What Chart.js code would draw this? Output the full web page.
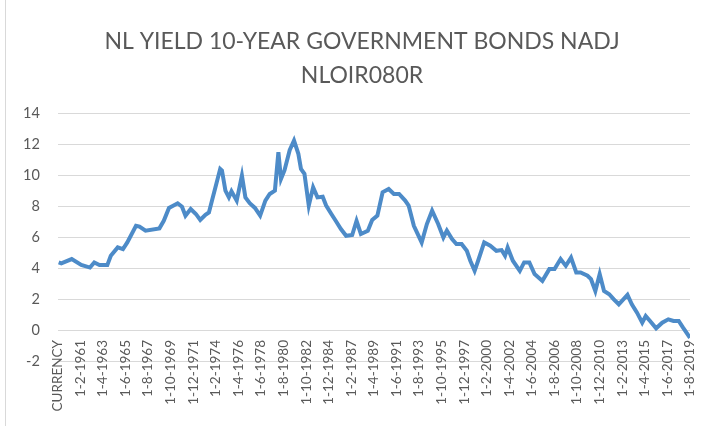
<!DOCTYPE html>
<html>
<head>
<meta charset="utf-8">
<script src="https://cdn.jsdelivr.net/npm/chart.js@4.4.1/dist/chart.umd.min.js"></script>
<style>
  body { margin: 0; background: #fff; }
  #wrap { position: relative; width: 702px; height: 426px; }
  #wrap:before { content: ''; position: absolute; left: 5px; top: 0; bottom: 0; border-left: 1px solid #d9d9d9; }
</style>
</head>
<body>
<div id="wrap"><canvas id="grafico" width="702" height="426"></canvas></div>
<script>
// rótulos do eixo x (um a cada 26 meses, como no Excel)
var tickLabels = ['CURRENCY', '1-2-1961', '1-4-1963', '1-6-1965', '1-8-1967', '1-10-1969', '1-12-1971',
  '1-2-1974', '1-4-1976', '1-6-1978', '1-8-1980', '1-10-1982', '1-12-1984', '1-2-1987', '1-4-1989',
  '1-6-1991', '1-8-1993', '1-10-1995', '1-12-1997', '1-2-2000', '1-4-2002', '1-6-2004', '1-8-2006',
  '1-10-2008', '1-12-2010', '1-2-2013', '1-4-2015', '1-6-2017', '1-8-2019'];

// datas (d-m-aaaa) e rendimento em %
var dates = ['1-1-1959', '1-4-1959', '1-4-1960', '1-3-1961', '1-1-1962', '1-6-1962', '1-12-1962', '1-9-1963',
  '1-1-1964', '1-9-1964', '1-3-1965', '1-8-1965', '1-6-1966', '1-10-1966', '1-5-1967', '1-9-1968',
  '1-2-1969', '1-8-1969', '1-6-1970', '1-11-1970', '1-3-1971', '1-9-1971', '1-3-1972', '1-8-1972',
  '1-2-1973', '1-6-1973', '1-10-1973', '1-1-1974', '1-7-1974', '1-9-1974', '1-1-1975', '1-5-1975',
  '1-8-1975', '1-2-1976', '1-8-1976', '1-12-1976', '1-5-1977', '1-11-1977', '1-5-1978', '1-11-1978',
  '1-4-1979', '1-10-1979', '1-2-1980', '1-5-1980', '1-9-1980', '1-3-1981', '1-8-1981', '1-1-1982',
  '1-4-1982', '1-8-1982', '1-1-1983', '1-6-1983', '1-11-1983', '1-5-1984', '1-9-1984', '1-3-1985',
  '1-8-1985', '1-2-1986', '1-8-1986', '1-3-1987', '1-8-1987', '1-1-1988', '1-9-1988', '1-2-1989',
  '1-8-1989', '1-2-1990', '1-9-1990', '1-3-1991', '1-9-1991', '1-4-1992', '1-8-1992', '1-2-1993',
  '1-11-1993', '1-5-1994', '1-11-1994', '1-6-1995', '1-12-1995', '1-4-1996', '1-10-1996', '1-3-1997',
  '1-9-1997', '1-3-1998', '1-7-1998', '1-12-1998', '1-4-1999', '1-11-1999', '1-6-2000', '1-1-2001',
  '1-7-2001', '1-11-2001', '1-2-2002', '1-8-2002', '1-4-2003', '1-9-2003', '1-3-2004', '1-9-2004',
  '1-6-2005', '1-2-2006', '1-8-2006', '1-3-2007', '1-9-2007', '1-3-2008', '1-9-2008', '1-2-2009',
  '1-10-2009', '1-2-2010', '1-7-2010', '1-12-2010', '1-5-2011', '1-11-2011', '1-4-2012', '1-10-2012',
  '1-8-2013', '1-1-2014', '1-7-2014', '1-1-2015', '1-5-2015', '1-10-2015', '1-5-2016', '1-12-2016',
  '1-7-2017', '1-1-2018', '1-7-2018', '1-12-2018', '1-8-2019'];
var yields = [4.36, 4.3, 4.58, 4.2, 4.03, 4.36, 4.2, 4.19,
  4.79, 5.33, 5.22, 5.65, 6.73, 6.67, 6.41, 6.56,
  7.05, 7.88, 8.18, 7.96, 7.38, 7.81, 7.49, 7.1,
  7.44, 7.59, 8.46, 9.1, 10.4, 10.3, 9.0, 8.56,
  8.95, 8.35, 9.97, 8.56, 8.18, 7.88, 7.38, 8.35,
  8.78, 9.0, 11.48, 9.75, 10.3, 11.6, 12.23, 11.37,
  10.4, 10.08, 8.03, 9.21, 8.56, 8.6, 8.03, 7.49,
  7.05, 6.52, 6.08, 6.13, 7.05, 6.2, 6.41, 7.1,
  7.38, 8.89, 9.1, 8.78, 8.78, 8.35, 8.03, 6.73,
  5.65, 6.84, 7.7, 6.84, 5.97, 6.41, 5.87, 5.55,
  5.55, 5.11, 4.47, 3.82, 4.47, 5.65, 5.44, 5.11,
  5.16, 4.79, 5.33, 4.47, 3.82, 4.36, 4.36, 3.61,
  3.17, 3.93, 3.93, 4.58, 4.14, 4.68, 3.71, 3.71,
  3.5, 3.28, 2.52, 3.61, 2.52, 2.31, 1.99, 1.66,
  2.27, 1.66, 1.12, 0.47, 0.9, 0.58, 0.11, 0.47,
  0.69, 0.58, 0.58, 0.15, -0.5];

// posição na categoria: 0 = CURRENCY, 1 = jan 1959, 26 = fev 1961 ...
function posicao(d) {
  var p = d.split('-');
  return (parseInt(p[2]) - 1958) * 12 + (parseInt(p[1]) - 12);
}

var pontos = dates.map(function(d, i) { return { x: posicao(d), y: yields[i] }; });
var ultimo = posicao(tickLabels[tickLabels.length - 1]);

Chart.defaults.font.family = 'Lato';
Chart.defaults.color = '#595959';

// centraliza o título como no original (um pouco à direita)
var centroTitulo = {
  id: 'centroTitulo',
  beforeDraw: function(chart) {
    if (chart.titleBlock) {
      chart.titleBlock.left = 22;
      chart.titleBlock.right = 702;
    }
  }
};

var ctx = document.getElementById('grafico');
var myChart = new Chart(ctx, {
  type: 'line',
  data: {
    datasets: [{
      label: 'NLOIR080R',
      data: pontos,
      borderColor: '#4d8bc8',
      borderWidth: 4,
      pointRadius: 0,
      tension: 0,
      fill: false
    }]
  },
  options: {
    responsive: false,
    animation: false,
    layout: { padding: { left: 5, right: 12, top: 0, bottom: 65 } },
    plugins: {
      legend: { display: false },
      tooltip: { enabled: false },
      title: {
        display: true,
        text: ['NL YIELD 10-YEAR GOVERNMENT BONDS NADJ', 'NLOIR080R'],
        color: '#595959',
        font: { size: 23, weight: 'normal', lineHeight: 1.48 },
        padding: { top: 25, bottom: 20 }
      }
    },
    scales: {
      x: {
        type: 'linear',
        min: 0,
        max: ultimo,
        position: { y: 0 },
        grid: { display: false, drawTicks: false },
        border: { display: false },
        afterBuildTicks: function(axis) {
          axis.ticks = tickLabels.map(function(l, i) { return { value: i * 26 }; });
        },
        // o último rótulo não deve empurrar a área do gráfico
        afterFit: function(axis) {
          axis.paddingRight = 0;
          axis.paddingLeft = 0;
        },
        ticks: {
          autoSkip: false,
          minRotation: 90,
          maxRotation: 90,
          padding: 10,
          font: { size: 13.5 },
          color: '#595959',
          callback: function(value) { return tickLabels[Math.round(value / 26)]; }
        }
      },
      y: {
        min: -2,
        max: 14,
        grid: { color: '#d9d9d9', drawTicks: false },
        border: { display: false },
        ticks: { stepSize: 2, padding: 18, font: { size: 14.5 }, color: '#595959' }
      }
    }
  },
  plugins: [centroTitulo]
});
</script>
</body>
</html>
